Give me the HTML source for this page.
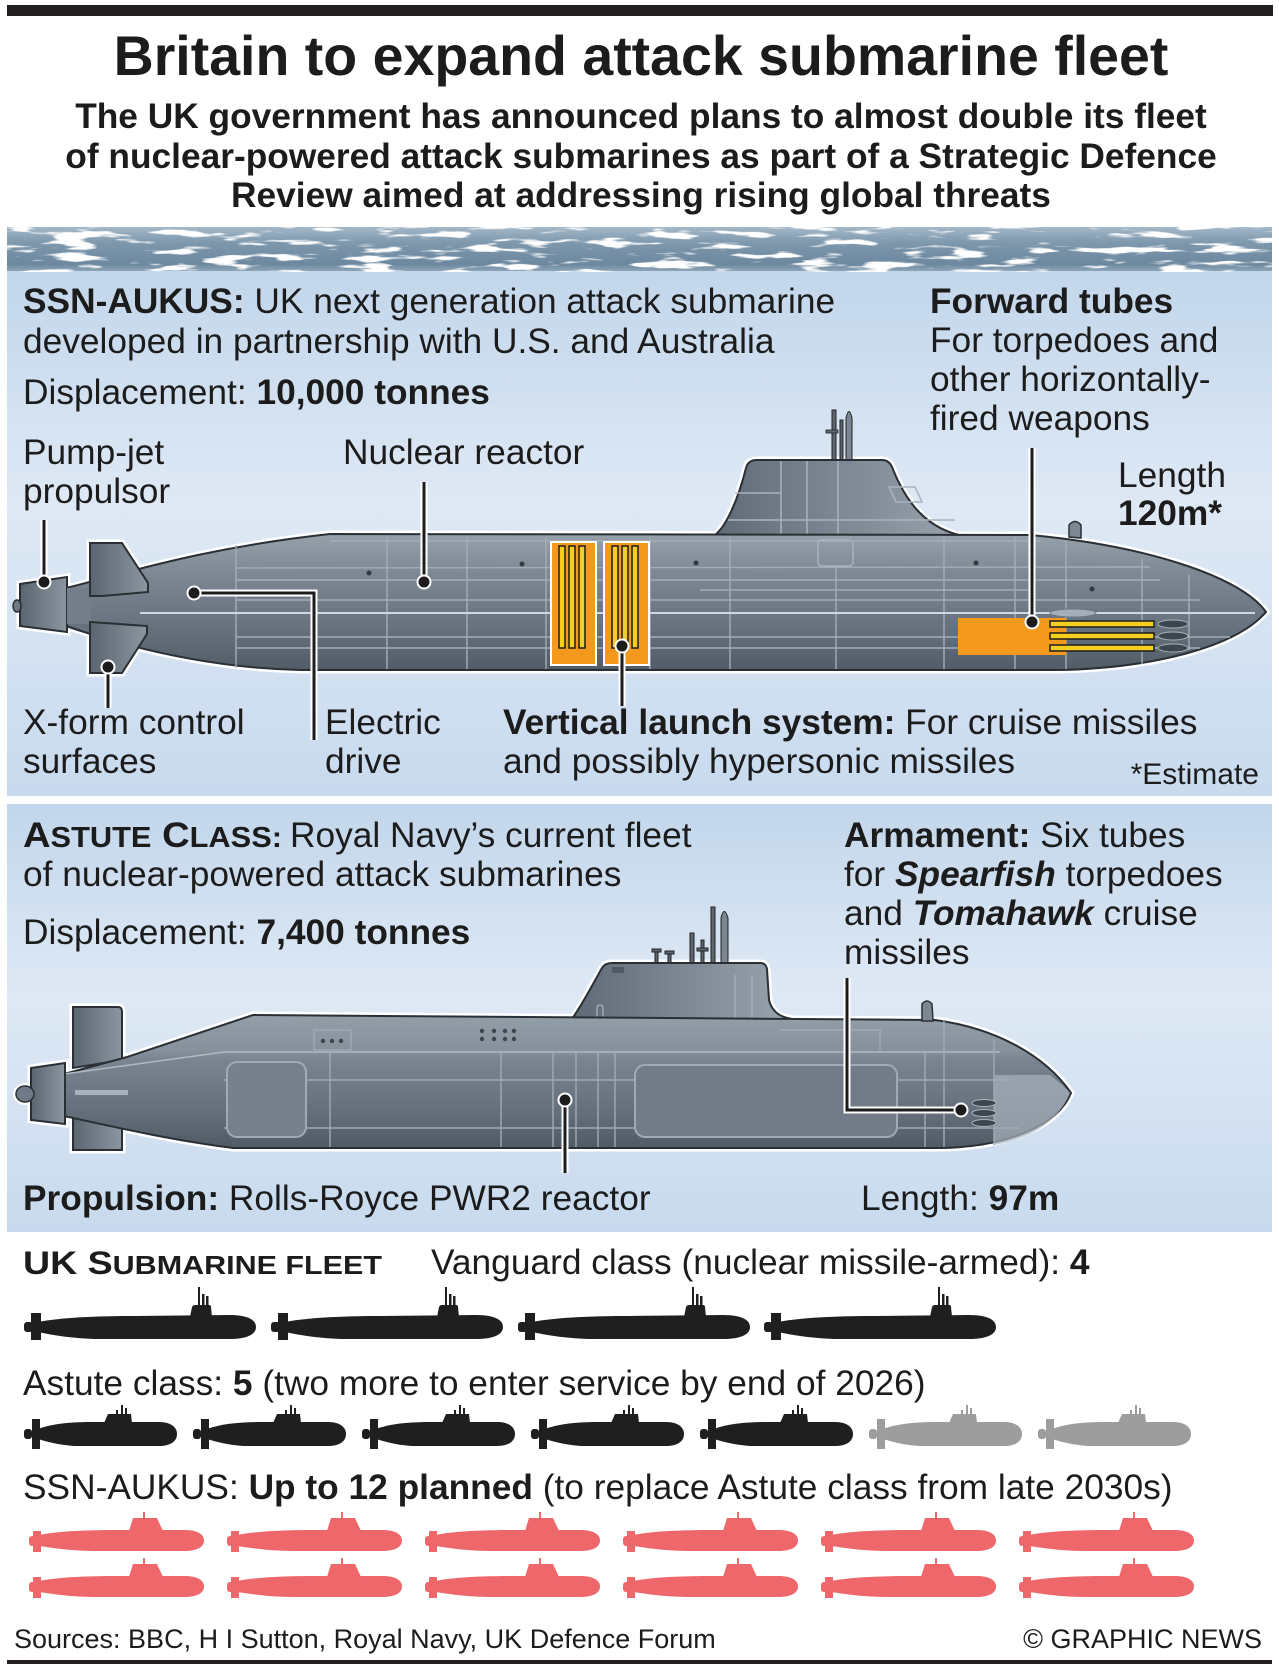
<!DOCTYPE html>
<html><head><meta charset="utf-8"><style>
html,body{margin:0;padding:0;background:#fff;}
body{width:1279px;height:1667px;overflow:hidden;}
svg{display:block;}
text{font-family:"Liberation Sans",Arial,sans-serif;fill:#1c1c1c;font-size:35.3px;}
.b{font-weight:bold;}
.bi{font-weight:bold;font-style:italic;}
</style></head><body>
<svg width="1279" height="1667" viewBox="0 0 1279 1667" xmlns="http://www.w3.org/2000/svg">
<defs>
<linearGradient id="panelG" x1="0" y1="0" x2="0" y2="1">
<stop offset="0" stop-color="#c2d6eb"/><stop offset="0.45" stop-color="#dfe9f5"/><stop offset="1" stop-color="#c8daee"/>
</linearGradient>
<linearGradient id="waterG" x1="0" y1="0" x2="0" y2="1">
<stop offset="0" stop-color="#a3b8c9"/><stop offset="0.35" stop-color="#7e98ad"/><stop offset="0.85" stop-color="#6c889f"/><stop offset="1" stop-color="#8ea5b8"/>
</linearGradient>
<linearGradient id="hullG" x1="0" y1="0" x2="0" y2="1">
<stop offset="0" stop-color="#97a1ab"/><stop offset="0.3" stop-color="#7c8793"/><stop offset="0.7" stop-color="#66717d"/><stop offset="1" stop-color="#525c67"/>
</linearGradient>
<linearGradient id="astG" x1="0" y1="0" x2="0" y2="1">
<stop offset="0" stop-color="#939ea9"/><stop offset="0.27" stop-color="#86919c"/><stop offset="0.33" stop-color="#7a8591"/><stop offset="0.75" stop-color="#636e7a"/><stop offset="1" stop-color="#505a65"/>
</linearGradient>
<linearGradient id="sailG" x1="0" y1="0" x2="1" y2="0">
<stop offset="0" stop-color="#5f6a76"/><stop offset="0.45" stop-color="#7a8591"/><stop offset="1" stop-color="#9aa4ae"/>
</linearGradient>
<linearGradient id="finG" x1="0" y1="0" x2="1" y2="0">
<stop offset="0" stop-color="#5a6570"/><stop offset="1" stop-color="#8b96a1"/>
</linearGradient>
<filter id="water" filterUnits="userSpaceOnUse" x="7" y="226" width="1265" height="46">
<feTurbulence type="fractalNoise" baseFrequency="0.02 0.13" numOctaves="3" seed="11" result="t"/>
<feColorMatrix in="t" type="matrix" values="0 0 0 0 1  0 0 0 0 1  0 0 0 0 1  9 0 0 0 -5.0"/>
</filter>
<g id="vg">
<rect x="0" y="35" width="9" height="10" rx="3"/>
<rect x="7" y="26" width="10" height="27"/>
<path d="M14,35 C40,30 80,29 110,29 L205,28 C226,28 232,34 232,40 C232,47 224,52 205,52 L70,52 C45,51 28,48 14,45 Z"/>
<path d="M166,30 L168,20 Q169,18 171,18 L185,18 Q187,18 187,20 L188,30 Z"/>
<rect x="174" y="0" width="2" height="19"/><rect x="178" y="7" width="2.5" height="12"/><rect x="182" y="9" width="2.5" height="10"/>
</g>
<g id="ag">
<rect x="0" y="24" width="8" height="10" rx="3"/>
<rect x="8" y="14" width="8" height="30"/>
<path d="M14,24 C30,18 50,17 70,17 L135,17 C148,17 153,23 153,29 C153,36 147,41 135,41 L50,41 C35,40 24,37 14,34 Z"/>
<path d="M80,18 L84,9 L107,9 L108,18 Z"/>
<rect x="97" y="0" width="2" height="10"/><rect x="101" y="3" width="2" height="7"/><rect x="92" y="5" width="2" height="5"/>
</g>
<g id="rg">
<rect x="0" y="24" width="7" height="10" rx="3"/>
<rect x="4" y="19" width="8" height="21"/>
<path d="M10,23 C30,19 60,18 90,18 L155,18 C170,18 175,23 175,28.5 C175,34 170,39 155,39 L70,39 C40,39 25,36 10,34 Z"/>
<path d="M100,19 L104,6 L128,6 L134,19 Z"/>
<rect x="114" y="0" width="2" height="7"/>
</g>
</defs>

<!-- top bar -->
<rect x="7" y="5" width="1266" height="11" fill="#231f20"/>

<!-- title -->
<text x="641" y="75" text-anchor="middle" class="b" style="font-size:55.5px">Britain to expand attack submarine fleet</text>
<text x="641" y="128" text-anchor="middle" class="b" style="font-size:35.3px">The UK government has announced plans to almost double its fleet</text>
<text x="641" y="168" text-anchor="middle" class="b" style="font-size:35.3px">of nuclear-powered attack submarines as part of a Strategic Defence</text>
<text x="641" y="207" text-anchor="middle" class="b" style="font-size:35.3px">Review aimed at addressing rising global threats</text>

<!-- panels -->
<rect x="7" y="270" width="1265" height="526" fill="url(#panelG)"/>
<rect x="7" y="804" width="1265" height="428" fill="url(#panelG)"/>
<!-- water -->
<rect x="7" y="227" width="1265" height="44" fill="url(#waterG)"/>
<rect x="7" y="227" width="1265" height="44" filter="url(#water)"/>

<!-- ============ SSN-AUKUS sub ============ -->
<g>
<path d="M66,588 C120,575 200,548 330,534 L1030,535 C1140,545 1240,575 1266,612 C1235,648 1150,668 1060,670 L300,670 C210,668 130,648 66,626 Z" fill="none" stroke="#fff" stroke-width="7"/>
<path d="M712,537 C725,530 738,500 746,468 Q748,460 757,460 L882,460 Q889,460 892,467 C905,500 925,530 968,537 Z" fill="none" stroke="#fff" stroke-width="7"/>
<path d="M20,584 L67,577 L67,632 L20,626 Z" fill="none" stroke="#fff" stroke-width="7"/>
<path d="M90,543 L122,543 L148,583 L148,592 L102,596 L90,596 Z" fill="none" stroke="#fff" stroke-width="7"/>
<path d="M90,622 L147,626 L147,634 L122,673 L90,673 Z" fill="none" stroke="#fff" stroke-width="7"/>
<!-- masts -->
<rect x="832" y="410" width="4" height="52" fill="#5d6772" stroke="#222" stroke-width="1"/>
<rect x="826" y="430" width="12" height="3" fill="#5d6772" stroke="#222" stroke-width="0.8"/>
<rect x="840" y="420" width="3" height="42" fill="#5d6772" stroke="#222" stroke-width="1"/>
<path d="M846,462 L846,418 Q849,405 852,418 L852,462 Z" fill="#7b8692" stroke="#222" stroke-width="1"/>
<!-- sail -->
<path d="M712,537 C725,530 738,500 746,468 Q748,460 757,460 L882,460 Q889,460 892,467 C905,500 925,530 968,537 Z" fill="url(#sailG)" stroke="#2a2f35" stroke-width="2"/>
<path d="M728,520 L955,520" stroke="#a9b3bd" stroke-width="1.5"/>
<path d="M781,461 L781,536 M807,461 L807,536 M838,461 L838,536 M735,493 L781,493" stroke="#a9b3bd" stroke-width="1.5" fill="none"/>
<path d="M889,487 L915,487 L922,502 L896,502 Z" fill="none" stroke="#a9b3bd" stroke-width="1.5"/>
<!-- hull -->
<path d="M66,588 C120,575 200,548 330,534 L1030,535 C1140,545 1240,575 1266,612 C1235,648 1150,668 1060,670 L300,670 C210,668 130,648 66,626 Z" fill="url(#hullG)" stroke="#2a2f35" stroke-width="2"/>
<!-- panel lines -->
<g stroke="#a3adb7" stroke-width="1.4" fill="none">
<path d="M236,545 L236,668 M387,537 L387,669 M467,537 L467,669 M546,537 L546,669 M650,537 L650,669 M730,537 L730,669 M836,567 L836,669 M944,537 L944,669 M1015,537 L1015,669 M1066,540 L1066,669 M1142,558 L1142,664 M1189,575 L1189,650"/>
<path d="M236,568 L1150,567 M236,580 L1160,580 M700,590 L1030,590 M236,600 L1200,600 M236,637 L1230,637 M236,648 L1200,648 M330,541 L1040,541"/>
<path d="M140,613 L1255,613" stroke="#d0d8df" stroke-width="2"/>
</g>
<rect x="818" y="540" width="35" height="26" rx="4" fill="none" stroke="#a9b3bd" stroke-width="1.5"/>
<path d="M1069,537 L1069,525 Q1075,518 1081,525 L1081,538 Z" fill="#7d8893" stroke="#2a2f35" stroke-width="1.5"/>
<g fill="#333a42"><circle cx="369" cy="573" r="2.5"/><circle cx="522" cy="564" r="2.5"/><circle cx="696" cy="563" r="2.5"/><circle cx="976" cy="563" r="2.5"/><circle cx="1092" cy="589" r="2.5"/></g>
<!-- propulsor -->
<path d="M20,584 L67,577 L67,632 L20,626 Z" fill="url(#finG)" stroke="#2a2f35" stroke-width="2"/>
<ellipse cx="17" cy="606" rx="4" ry="6" fill="#6f7a86" stroke="#2a2f35" stroke-width="1.5"/>
<rect x="67" y="588" width="24" height="36" fill="#737e8a"/>
<!-- fins -->
<path d="M90,543 L122,543 L148,583 L148,592 L102,596 L90,596 Z" fill="url(#finG)" stroke="#2a2f35" stroke-width="2"/>
<path d="M90,622 L147,626 L147,634 L122,673 L90,673 Z" fill="url(#finG)" stroke="#2a2f35" stroke-width="2"/>
<!-- VLS -->
<rect x="551" y="542" width="45" height="123" fill="#f39a1e" stroke="#fff" stroke-width="2"/>
<rect x="604" y="542" width="45" height="123" fill="#f39a1e" stroke="#fff" stroke-width="2"/>
<g fill="#f5cf1f" stroke="#1c1c1c" stroke-width="1.5">
<rect x="559" y="546" width="6" height="102"/><rect x="569" y="546" width="6" height="102"/><rect x="579" y="546" width="6" height="102"/>
<rect x="612" y="546" width="6" height="102"/><rect x="622" y="546" width="6" height="102"/><rect x="632" y="546" width="6" height="102"/>
</g>
<!-- forward tubes -->
<rect x="958" y="618" width="108" height="37" fill="#f39a1e"/>
<ellipse cx="1073" cy="613" rx="23" ry="4" fill="#a4aeb8" stroke="#6c7681" stroke-width="1"/>
<g fill="#f5cf1f" stroke="#1c1c1c" stroke-width="1.5">
<rect x="1050" y="621" width="104" height="6"/><rect x="1050" y="633" width="104" height="6"/><rect x="1050" y="645" width="104" height="6"/>
</g>
<g fill="#3d454e" stroke="#aab3bc" stroke-width="1"><ellipse cx="1173" cy="624" rx="15" ry="4"/><ellipse cx="1173" cy="636" rx="15" ry="4"/><ellipse cx="1173" cy="648" rx="15" ry="4"/></g>
</g>

<!-- SSN callouts -->
<g fill="none" stroke-linecap="butt">
<path d="M44,520 L44,582 M108,667 L108,708 M194,593 L314,593 L314,740 M424,482 L424,582 M622,646 L622,706 M1032,448 L1032,622" stroke="#fff" stroke-width="7"/>
<path d="M44,520 L44,582 M108,667 L108,708 M194,593 L314,593 L314,740 M424,482 L424,582 M622,646 L622,706 M1032,448 L1032,622" stroke="#1c1c1c" stroke-width="3"/>
</g>
<g fill="#1c1c1c" stroke="#fff" stroke-width="2">
<circle cx="44" cy="582" r="6.5"/><circle cx="108" cy="667" r="6.5"/><circle cx="194" cy="593" r="6.5"/><circle cx="424" cy="582" r="6.5"/><circle cx="622" cy="646" r="6.5"/><circle cx="1032" cy="622" r="6.5"/>
</g>

<!-- SSN text -->
<text x="23" y="313"><tspan class="b">SSN-AUKUS:</tspan> UK next generation attack submarine</text>
<text x="23" y="353">developed in partnership with U.S. and Australia</text>
<text x="23" y="404">Displacement: <tspan class="b">10,000 tonnes</tspan></text>
<text x="23" y="464">Pump-jet</text>
<text x="23" y="503">propulsor</text>
<text x="343" y="464">Nuclear reactor</text>
<text x="930" y="313" class="b">Forward tubes</text>
<text x="930" y="352">For torpedoes and</text>
<text x="930" y="391">other horizontally-</text>
<text x="930" y="430">fired weapons</text>
<text x="1118" y="487">Length</text>
<text x="1118" y="525" class="b">120m*</text>
<text x="23" y="734">X-form control</text>
<text x="23" y="773">surfaces</text>
<text x="325" y="734">Electric</text>
<text x="325" y="773">drive</text>
<text x="503" y="734"><tspan class="b">Vertical launch system:</tspan> For cruise missiles</text>
<text x="503" y="773">and possibly hypersonic missiles</text>
<text x="1259" y="784" text-anchor="end" style="font-size:30px">*Estimate</text>

<!-- ============ ASTUTE sub ============ -->
<g>
<path d="M64,1074 L127,1057 L253,1015 L935,1020 C995,1028 1045,1055 1071,1093 C1058,1125 1010,1146 944,1148 L233,1148 C170,1140 110,1126 64,1116 Z" fill="none" stroke="#fff" stroke-width="7"/>
<path d="M572,1019 C585,1000 595,980 602,968 Q605,963 612,963 L760,963 Q766,963 767,969 L769,1000 C772,1012 780,1017 792,1019 Z" fill="none" stroke="#fff" stroke-width="7"/>
<path d="M73,1007 L118,1007 Q122,1007 122,1012 L122,1150 L73,1150 Z" fill="none" stroke="#fff" stroke-width="7"/>
<path d="M31,1068 L65,1063 L65,1124 L31,1120 Z" fill="none" stroke="#fff" stroke-width="7"/>
<ellipse cx="25" cy="1094" rx="9" ry="8" fill="none" stroke="#fff" stroke-width="6"/>
<!-- masts -->
<g fill="#5d6772" stroke="#222" stroke-width="1">
<rect x="655" y="950" width="3" height="14"/><rect x="652" y="949" width="9" height="3"/>
<rect x="668" y="952" width="3" height="12"/><rect x="665" y="951" width="9" height="3"/>
<rect x="690" y="933" width="4" height="31"/>
<rect x="701" y="940" width="3" height="24"/><rect x="697" y="948" width="11" height="3"/>
<rect x="711" y="907" width="4" height="57"/>
<path d="M721,964 L721,918 Q724,905 728,918 L728,964 Z" fill="#7b8692"/>
</g>
<!-- sail -->
<path d="M572,1019 C585,1000 595,980 602,968 Q605,963 612,963 L760,963 Q766,963 767,969 L769,1000 C772,1012 780,1017 792,1019 Z" fill="url(#sailG)" stroke="#2a2f35" stroke-width="2"/>
<rect x="612" y="967" width="12" height="6" fill="#4f5964"/>
<rect x="597" y="1005" width="6" height="16" rx="3" fill="none" stroke="#a9b3bd" stroke-width="1.3"/>
<path d="M735,975 L735,1018 M752,975 L752,1018" stroke="#a9b3bd" stroke-width="1.3"/>
<!-- rudders -->
<path d="M73,1007 L118,1007 Q122,1007 122,1012 L122,1060 L73,1068 Z" fill="url(#finG)" stroke="#2a2f35" stroke-width="2"/>
<path d="M73,1112 L122,1118 L122,1150 L73,1150 Z" fill="url(#finG)" stroke="#2a2f35" stroke-width="2"/>
<!-- hull -->
<path d="M64,1074 L127,1057 L253,1015 L935,1020 C995,1028 1045,1055 1071,1093 C1058,1125 1010,1146 944,1148 L233,1148 C170,1140 110,1126 64,1116 Z" fill="url(#astG)" stroke="#2a2f35" stroke-width="2"/>
<path d="M64,1074 L224,1052 L1000,1052" stroke="#b0b9c2" stroke-width="1.5" fill="none"/>
<path d="M994,1075 L1050,1075 C1062,1085 1068,1090 1070,1093 C1060,1118 1035,1138 994,1145 Z" fill="#a9b3bd" opacity="0.7"/>
<g stroke="#a0aab4" stroke-width="1.4" fill="none">
<path d="M224,1080 L1010,1080 M224,1128 L1020,1128"/>
<path d="M330,1052 L330,1147 M501,1052 L501,1147 M553,1052 L553,1147 M576,1052 L576,1147 M598,1052 L598,1147 M615,1052 L615,1147 M925,1052 L925,1147 M944,1020 L944,1147 M994,1040 L994,1145"/>
<path d="M780,1030 L880,1030 L880,1050"/>
</g>
<rect x="227" y="1062" width="79" height="75" rx="10" fill="#76818d" stroke="#a0aab4" stroke-width="2"/>
<rect x="635" y="1065" width="262" height="72" rx="10" fill="#717c88" stroke="#a0aab4" stroke-width="2"/>
<rect x="314" y="1030" width="37" height="20" fill="none" stroke="#a0aab4" stroke-width="1.4"/>
<g fill="#3d454e">
<circle cx="323" cy="1041" r="2.2"/><circle cx="332" cy="1041" r="2.2"/><circle cx="341" cy="1041" r="2.2"/>
<circle cx="482" cy="1031" r="2.2"/><circle cx="494" cy="1031" r="2.2"/><circle cx="505" cy="1031" r="2.2"/><circle cx="514" cy="1031" r="2.2"/>
<circle cx="482" cy="1039" r="2.2"/><circle cx="494" cy="1039" r="2.2"/><circle cx="505" cy="1039" r="2.2"/><circle cx="514" cy="1039" r="2.2"/>
</g>
<path d="M922,1021 L922,1004 Q927,998 932,1004 L933,1021 Z" fill="#7d8893" stroke="#2a2f35" stroke-width="1.5"/>
<path d="M75,1090 L128,1090 L128,1095 L75,1095 Z" fill="#a8b2bc"/>
<!-- propulsor -->
<path d="M31,1068 L65,1063 L65,1124 L31,1120 Z" fill="url(#finG)" stroke="#2a2f35" stroke-width="2"/>
<ellipse cx="25" cy="1094" rx="9" ry="8" fill="#6f7a86" stroke="#2a2f35" stroke-width="1.5"/>
<g fill="#3d454e" stroke="#aab3bc" stroke-width="1"><ellipse cx="984" cy="1103" rx="12" ry="3.5"/><ellipse cx="984" cy="1113" rx="12" ry="3.5"/><ellipse cx="984" cy="1123" rx="12" ry="3.5"/></g>
</g>
<!-- astute callouts -->
<path d="M565,1100 L565,1173 M961,1110 L847,1110 L847,978" fill="none" stroke="#fff" stroke-width="7"/>
<path d="M565,1100 L565,1173 M961,1110 L847,1110 L847,978" fill="none" stroke="#1c1c1c" stroke-width="3"/>
<g fill="#1c1c1c" stroke="#fff" stroke-width="2"><circle cx="565" cy="1100" r="6.5"/><circle cx="961" cy="1110" r="6.5"/></g>

<!-- astute text -->
<text x="23" y="847" class="b" textLength="259" lengthAdjust="spacingAndGlyphs">A<tspan style="font-size:28.5px">STUTE</tspan> C<tspan style="font-size:28.5px">LASS:</tspan></text>
<text x="290" y="847">Royal Navy’s current fleet</text>
<text x="23" y="886">of nuclear-powered attack submarines</text>
<text x="23" y="944">Displacement: <tspan class="b">7,400 tonnes</tspan></text>
<text x="844" y="847"><tspan class="b">Armament:</tspan> Six tubes</text>
<text x="844" y="886">for <tspan class="bi">Spearfish</tspan> torpedoes</text>
<text x="844" y="925">and <tspan class="bi">Tomahawk</tspan> cruise</text>
<text x="844" y="964">missiles</text>
<text x="23" y="1210"><tspan class="b">Propulsion:</tspan> Rolls-Royce PWR2 reactor</text>
<text x="861" y="1210">Length: <tspan class="b">97m</tspan></text>

<!-- fleet -->
<text x="23" y="1274" class="b" textLength="359" lengthAdjust="spacingAndGlyphs" style="font-size:32px">UK S<tspan style="font-size:26px">UBMARINE FLEET</tspan></text>
<text x="431" y="1274">Vanguard class (nuclear missile-armed): <tspan class="b">4</tspan></text>
<use href="#vg" x="24" y="1287" fill="#1f1f1f"/>
<use href="#vg" x="271" y="1287" fill="#1f1f1f"/>
<use href="#vg" x="518" y="1287" fill="#1f1f1f"/>
<use href="#vg" x="764" y="1287" fill="#1f1f1f"/>

<text x="23" y="1395">Astute class: <tspan class="b">5</tspan> (two more to enter service by end of 2026)</text>
<use href="#ag" x="24" y="1405" fill="#1f1f1f"/>
<use href="#ag" x="193" y="1405" fill="#1f1f1f"/>
<use href="#ag" x="362" y="1405" fill="#1f1f1f"/>
<use href="#ag" x="531" y="1405" fill="#1f1f1f"/>
<use href="#ag" x="700" y="1405" fill="#1f1f1f"/>
<use href="#ag" x="869" y="1405" fill="#9d9d9d"/>
<use href="#ag" x="1038" y="1405" fill="#9d9d9d"/>

<text x="23" y="1499">SSN-AUKUS: <tspan class="b">Up to 12 planned</tspan> (to replace Astute class from late 2030s)</text>
<g fill="#ee676b">
<use href="#rg" x="29" y="1512"/><use href="#rg" x="227" y="1512"/><use href="#rg" x="425" y="1512"/>
<use href="#rg" x="623" y="1512"/><use href="#rg" x="821" y="1512"/><use href="#rg" x="1019" y="1512"/>
<use href="#rg" x="29" y="1558"/><use href="#rg" x="227" y="1558"/><use href="#rg" x="425" y="1558"/>
<use href="#rg" x="623" y="1558"/><use href="#rg" x="821" y="1558"/><use href="#rg" x="1019" y="1558"/>
</g>

<!-- footer -->
<text x="14" y="1648" style="font-size:27px">Sources: BBC, H I Sutton, Royal Navy, UK Defence Forum</text>
<text x="1262" y="1648" text-anchor="end" style="font-size:27px">© GRAPHIC NEWS</text>
<rect x="7" y="1660" width="1265" height="4" fill="#231f20"/>
</svg>
</body></html>
